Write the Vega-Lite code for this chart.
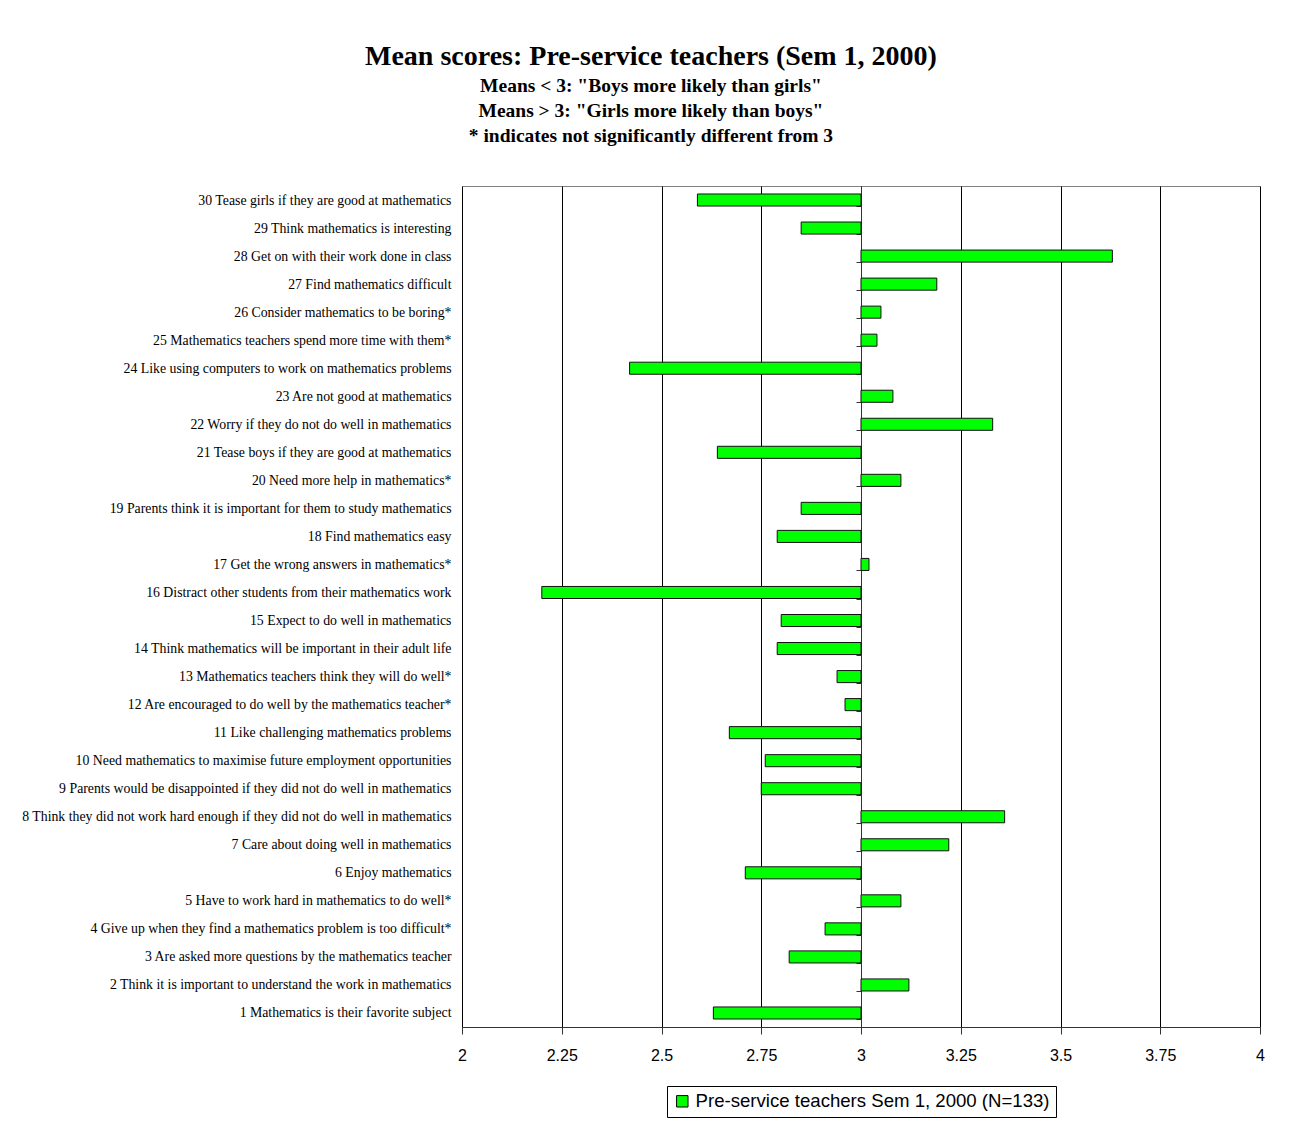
{
  "$schema": "https://vega.github.io/schema/vega-lite/v6.json",
  "width": 798,
  "height": 841,
  "autosize": {"type": "none"},
  "padding": {"left": 462, "top": 186, "right": 35, "bottom": 97},
  "background": "white",
  "title": {
    "text": "Mean scores: Pre-service teachers (Sem 1, 2000)",
    "subtitle": [
      "Means < 3: \"Boys more likely than girls\"",
      "Means > 3: \"Girls more likely than boys\"",
      "* indicates not significantly different from 3"
    ],
    "anchor": "middle",
    "frame": "bounds",
    "dx": 8,
    "font": "Liberation Serif",
    "fontSize": 28,
    "fontWeight": "bold",
    "color": "black",
    "subtitleFont": "Liberation Serif",
    "subtitleFontSize": 19.5,
    "subtitleFontWeight": "bold",
    "subtitleColor": "black",
    "subtitleLineHeight": 25,
    "subtitlePadding": 6,
    "offset": 34
  },
  "data": {
    "values": [
      {"item": 30, "statement": "30 Tease girls if they are good at mathematics", "mean": 2.59, "series": "Pre-service teachers Sem 1, 2000 (N=133)"},
      {"item": 29, "statement": "29 Think mathematics is interesting", "mean": 2.85, "series": "Pre-service teachers Sem 1, 2000 (N=133)"},
      {"item": 28, "statement": "28 Get on with their work done in class", "mean": 3.63, "series": "Pre-service teachers Sem 1, 2000 (N=133)"},
      {"item": 27, "statement": "27 Find mathematics difficult", "mean": 3.19, "series": "Pre-service teachers Sem 1, 2000 (N=133)"},
      {"item": 26, "statement": "26 Consider mathematics to be boring*", "mean": 3.05, "series": "Pre-service teachers Sem 1, 2000 (N=133)"},
      {"item": 25, "statement": "25 Mathematics teachers spend more time with them*", "mean": 3.04, "series": "Pre-service teachers Sem 1, 2000 (N=133)"},
      {"item": 24, "statement": "24 Like using computers to work on mathematics problems", "mean": 2.42, "series": "Pre-service teachers Sem 1, 2000 (N=133)"},
      {"item": 23, "statement": "23 Are not good at mathematics", "mean": 3.08, "series": "Pre-service teachers Sem 1, 2000 (N=133)"},
      {"item": 22, "statement": "22 Worry if they do not do well in mathematics", "mean": 3.33, "series": "Pre-service teachers Sem 1, 2000 (N=133)"},
      {"item": 21, "statement": "21 Tease boys if they are good at mathematics", "mean": 2.64, "series": "Pre-service teachers Sem 1, 2000 (N=133)"},
      {"item": 20, "statement": "20 Need more help in mathematics*", "mean": 3.1, "series": "Pre-service teachers Sem 1, 2000 (N=133)"},
      {"item": 19, "statement": "19 Parents think it is important for them to study mathematics", "mean": 2.85, "series": "Pre-service teachers Sem 1, 2000 (N=133)"},
      {"item": 18, "statement": "18 Find mathematics easy", "mean": 2.79, "series": "Pre-service teachers Sem 1, 2000 (N=133)"},
      {"item": 17, "statement": "17 Get the wrong answers in mathematics*", "mean": 3.02, "series": "Pre-service teachers Sem 1, 2000 (N=133)"},
      {"item": 16, "statement": "16 Distract other students from their mathematics work", "mean": 2.2, "series": "Pre-service teachers Sem 1, 2000 (N=133)"},
      {"item": 15, "statement": "15 Expect to do well in mathematics", "mean": 2.8, "series": "Pre-service teachers Sem 1, 2000 (N=133)"},
      {"item": 14, "statement": "14 Think mathematics will be important in their adult life", "mean": 2.79, "series": "Pre-service teachers Sem 1, 2000 (N=133)"},
      {"item": 13, "statement": "13 Mathematics teachers think they will do well*", "mean": 2.94, "series": "Pre-service teachers Sem 1, 2000 (N=133)"},
      {"item": 12, "statement": "12 Are encouraged to do well by the mathematics teacher*", "mean": 2.96, "series": "Pre-service teachers Sem 1, 2000 (N=133)"},
      {"item": 11, "statement": "11 Like challenging mathematics problems", "mean": 2.67, "series": "Pre-service teachers Sem 1, 2000 (N=133)"},
      {"item": 10, "statement": "10 Need mathematics to maximise future employment opportunities", "mean": 2.76, "series": "Pre-service teachers Sem 1, 2000 (N=133)"},
      {"item": 9, "statement": "9 Parents would be disappointed if they did not do well in mathematics", "mean": 2.75, "series": "Pre-service teachers Sem 1, 2000 (N=133)"},
      {"item": 8, "statement": "8 Think they did not work hard enough if they did not do well in mathematics", "mean": 3.36, "series": "Pre-service teachers Sem 1, 2000 (N=133)"},
      {"item": 7, "statement": "7 Care about doing well in mathematics", "mean": 3.22, "series": "Pre-service teachers Sem 1, 2000 (N=133)"},
      {"item": 6, "statement": "6 Enjoy mathematics", "mean": 2.71, "series": "Pre-service teachers Sem 1, 2000 (N=133)"},
      {"item": 5, "statement": "5 Have to work hard in mathematics to do well*", "mean": 3.1, "series": "Pre-service teachers Sem 1, 2000 (N=133)"},
      {"item": 4, "statement": "4 Give up when they find a mathematics problem is too difficult*", "mean": 2.91, "series": "Pre-service teachers Sem 1, 2000 (N=133)"},
      {"item": 3, "statement": "3 Are asked more questions by the mathematics teacher", "mean": 2.82, "series": "Pre-service teachers Sem 1, 2000 (N=133)"},
      {"item": 2, "statement": "2 Think it is important to understand the work in mathematics", "mean": 3.12, "series": "Pre-service teachers Sem 1, 2000 (N=133)"},
      {"item": 1, "statement": "1 Mathematics is their favorite subject", "mean": 2.63, "series": "Pre-service teachers Sem 1, 2000 (N=133)"}
    ]
  },
  "mark": {"type": "bar", "stroke": "#111111", "strokeWidth": 1},
  "encoding": {
    "y": {
      "field": "statement",
      "type": "nominal",
      "sort": {"field": "item", "op": "min", "order": "descending"},
      "scale": {"paddingInner": 0.57, "paddingOuter": 0.285},
      "axis": {
        "title": null,
        "orient": "left",
        "offset": -399,
        "tickBand": "extent",
        "tickSize": 5,
        "tickColor": "#333333",
        "domainColor": "#333333",
        "labelPadding": 405,
        "labelFont": "Liberation Serif",
        "labelFontSize": 13.8,
        "labelColor": "black",
        "labelLimit": 600
      }
    },
    "x": {
      "field": "mean",
      "type": "quantitative",
      "scale": {"domain": [2, 4], "zero": false, "nice": false},
      "axis": {
        "title": null,
        "values": [2, 2.25, 2.5, 2.75, 3, 3.25, 3.5, 3.75, 4],
        "format": ".2~f",
        "labelFlush": false,
        "grid": true,
        "gridColor": "black",
        "gridOpacity": 1,
        "gridWidth": 1,
        "tickSize": 7,
        "tickColor": "#333333",
        "domainColor": "#333333",
        "labelPadding": 13,
        "labelFont": "Liberation Sans",
        "labelFontSize": 16,
        "labelColor": "black"
      }
    },
    "x2": {"datum": 3},
    "color": {
      "field": "series",
      "type": "nominal",
      "scale": {"range": ["#00FF00"]},
      "legend": {
        "title": null,
        "orient": "bottom",
        "direction": "horizontal",
        "strokeColor": "black",
        "padding": 6,
        "offset": 23,
        "symbolType": "square",
        "symbolSize": 130,
        "symbolStrokeColor": "black",
        "symbolStrokeWidth": 1,
        "labelFont": "Liberation Sans",
        "labelFontSize": 18.6,
        "labelColor": "black",
        "labelLimit": 600
      }
    }
  },
  "config": {
    "view": {"stroke": "#808080", "strokeWidth": 1},
    "legend": {"layout": {"bottom": {"anchor": "middle"}}}
  }
}
